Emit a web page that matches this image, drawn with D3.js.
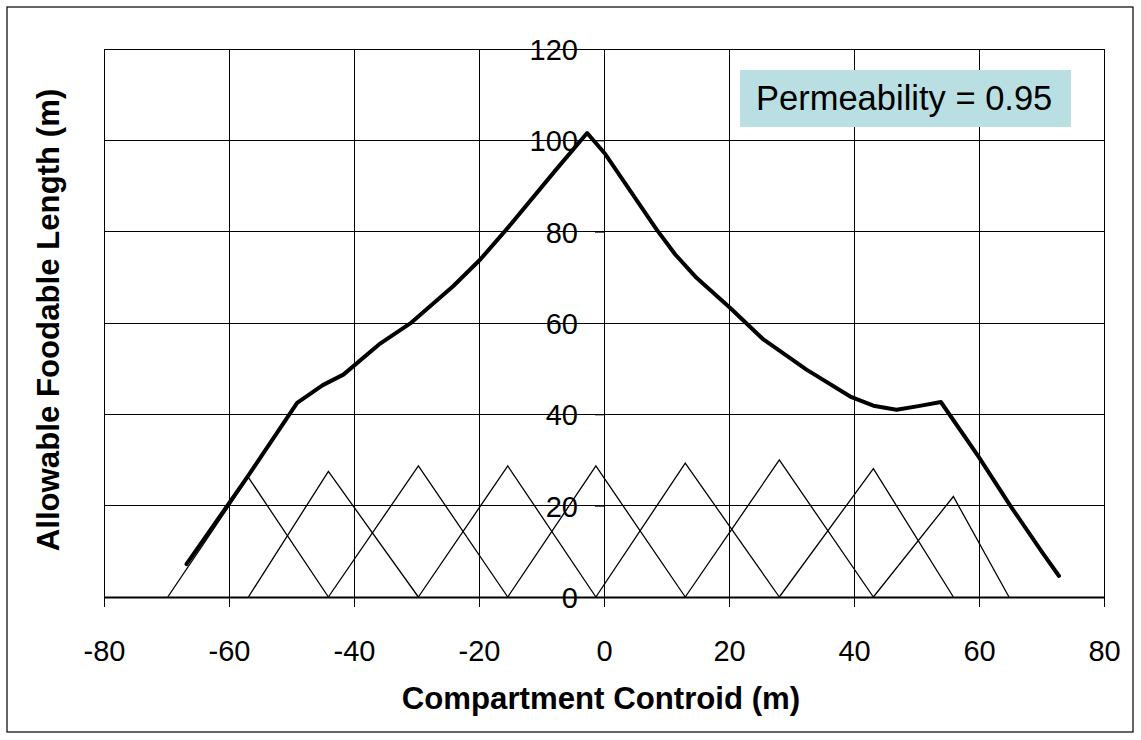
<!DOCTYPE html>
<html lang="en">
<head>
<meta charset="utf-8">
<title>Allowable Foodable Length</title>
<script src="https://d3js.org/d3.v7.min.js"></script>
<style>
  body { margin: 0; background: #fff; }
  text { font-family: Arial, "Liberation Sans", sans-serif; fill: #000; }
</style>
</head>
<body>
<script>
// envelope curve: compartment centroid (m) vs allowable length (m)
const curveX = [-66.8, -57, -49.1, -45, -41.7, -36, -31, -24.1, -19.8, -15.6, -7.6, -2.7,
                0.2, 8.4, 11.4, 14.8, 20.2, 25.5, 32.4, 39.4, 43.1, 46.8, 50.3, 53.9,
                59.9, 65, 70.2, 72.8];
const curveY = [7.2, 26.4, 42.5, 46.4, 48.7, 55.3, 59.9, 68.1, 73.9, 80.5, 93.7, 101.6,
                97, 80.5, 75, 69.9, 63.3, 56.4, 49.8, 43.9, 41.9, 41.0, 41.8, 42.7,
                30.8, 20.0, 9.6, 4.6];

// compartment boundaries; triangle i runs edge[i] -> edge[i+1] (peak) -> edge[i+2]
const edgeX = [-69.8, -56.9, -44.1, -29.7, -15.4, -1.3, 13.0, 28.05, 43.1, 55.9, 64.8];
const peakY = [26.2, 27.5, 28.7, 28.7, 28.7, 29.3, 30.0, 28.1, 22.0];

const xTicks = [-80, -60, -40, -20, 0, 20, 40, 60, 80];
const yTicks = [0, 20, 40, 60, 80, 100, 120];

const legendText = "Permeability = 0.95";
const xTitle = "Compartment Controid (m)";
const yTitle = "Allowable Foodable Length (m)";

// svg
const width = 1141;
const height = 740;
const svg = d3.select("body")
              .append("svg")
              .attr("width", width)
              .attr("height", height);

// outer frame
svg.append("rect")
   .attr("x", 7).attr("y", 7)
   .attr("width", 1126).attr("height", 725)
   .attr("fill", "#fff")
   .attr("stroke", "#000")
   .attr("stroke-width", 1.2);

// scales
const x = d3.scaleLinear().domain([-80, 80]).range([104, 1104]);
const y = d3.scaleLinear().domain([0, 120]).range([597, 49]);

// gridlines
const grid = svg.append("g").attr("shape-rendering", "crispEdges");
grid.selectAll(".vg")
    .data(xTicks)
    .join("line")
    .attr("x1", d => x(d)).attr("x2", d => x(d))
    .attr("y1", y(0)).attr("y2", y(120))
    .attr("stroke", "#000").attr("stroke-width", 1);
grid.selectAll(".hg")
    .data(yTicks)
    .join("line")
    .attr("x1", x(-80)).attr("x2", x(80))
    .attr("y1", d => y(d)).attr("y2", d => y(d))
    .attr("stroke", "#000").attr("stroke-width", 1);

// plain hyphen for negatives, like the original
const fmt = d => String(d);

// x axis along y = 0
const xAxis = svg.append("g")
    .attr("transform", `translate(0,${y(0)})`)
    .call(d3.axisBottom(x).tickValues(xTicks).tickFormat(fmt)
            .tickSize(10).tickSizeOuter(0).tickPadding(33));
xAxis.select(".domain").attr("stroke-width", 2);
xAxis.selectAll("text").attr("font-size", 29).style("font-family", "Arial, 'Liberation Sans', sans-serif");

// y axis crossing at x = 0
const yAxis = svg.append("g")
    .attr("transform", `translate(${x(0)},0)`)
    .call(d3.axisLeft(y).tickValues(yTicks).tickFormat(fmt)
            .tickSize(9).tickSizeOuter(0).tickPadding(17));
yAxis.selectAll("text")
     .attr("font-size", 29)
     .attr("dy", "0.36em")
     .style("font-family", "Arial, 'Liberation Sans', sans-serif");

// compartment triangles
const line = d3.line().x(d => x(d[0])).y(d => y(d[1]));
const triangles = peakY.map((p, i) => [[edgeX[i], 0], [edgeX[i + 1], p], [edgeX[i + 2], 0]]);
svg.append("g")
   .selectAll("path")
   .data(triangles)
   .join("path")
   .attr("d", line)
   .attr("fill", "none")
   .attr("stroke", "#000")
   .attr("stroke-width", 1.3);

// envelope curve
svg.append("path")
   .datum(curveX.map((d, i) => [d, curveY[i]]))
   .attr("d", line)
   .attr("fill", "none")
   .attr("stroke", "#000")
   .attr("stroke-width", 4)
   .attr("stroke-linejoin", "round")
   .attr("stroke-linecap", "round");

// legend box
svg.append("rect")
   .attr("x", 740).attr("y", 70)
   .attr("width", 331).attr("height", 57)
   .attr("fill", "#b9dfe3");
svg.append("text")
   .attr("x", 756).attr("y", 110)
   .attr("font-size", 34.5)
   .text(legendText);

// axis titles
svg.append("text")
   .attr("x", 601).attr("y", 709)
   .attr("text-anchor", "middle")
   .attr("font-size", 31.2)
   .attr("font-weight", "bold")
   .text(xTitle);
svg.append("text")
   .attr("transform", "translate(59,320) rotate(-90)")
   .attr("text-anchor", "middle")
   .attr("font-size", 31.2)
   .attr("font-weight", "bold")
   .text(yTitle);
</script>
</body>
</html>
